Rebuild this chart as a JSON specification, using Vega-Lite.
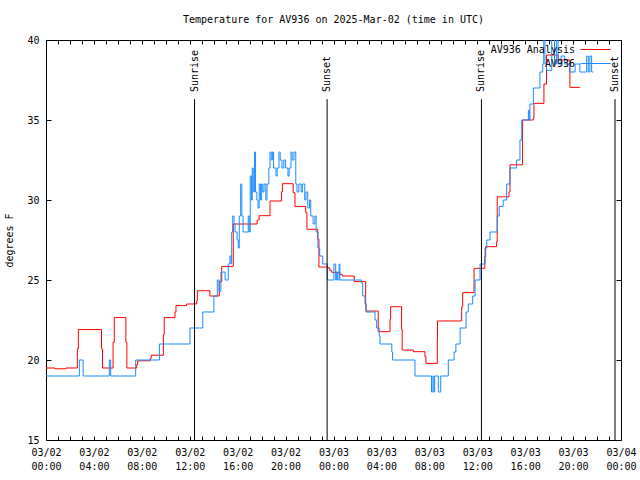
{
  "$schema": "https://vega.github.io/schema/vega-lite/v6.json",
  "width": 575,
  "height": 400,
  "autosize": {"type": "none"},
  "padding": {"left": 46, "top": 40, "right": 19, "bottom": 40},
  "background": "white",
  "config": {
    "view": {"stroke": "black", "strokeWidth": 1},
    "font": "DejaVu Sans Mono",
    "axis": {"domain": false, "grid": false, "tickColor": "black", "tickWidth": 1, "labelColor": "black", "labelFontSize": 10, "labelFont": "DejaVu Sans Mono", "titleFont": "DejaVu Sans Mono", "titleFontSize": 10, "titleFontWeight": "normal", "titleColor": "black"}
  },
  "title": {"text": "Temperature for AV936 on 2025-Mar-02 (time in UTC)", "fontSize": 10, "fontWeight": "normal", "font": "DejaVu Sans Mono", "color": "black", "offset": 10, "anchor": "middle"},
  "datasets": {
    "analysis": [
      {"time": "2025-03-02T00:00:00Z", "temp": 19.5},
      {"time": "2025-03-02T00:45:00Z", "temp": 19.45},
      {"time": "2025-03-02T01:39:00Z", "temp": 19.5},
      {"time": "2025-03-02T02:37:00Z", "temp": 20.7},
      {"time": "2025-03-02T02:42:00Z", "temp": 21.9},
      {"time": "2025-03-02T04:38:00Z", "temp": 20.7},
      {"time": "2025-03-02T04:43:00Z", "temp": 19.5},
      {"time": "2025-03-02T05:36:00Z", "temp": 21.1},
      {"time": "2025-03-02T05:42:00Z", "temp": 22.65},
      {"time": "2025-03-02T06:40:00Z", "temp": 21.1},
      {"time": "2025-03-02T06:45:00Z", "temp": 19.5},
      {"time": "2025-03-02T07:34:00Z", "temp": 19.7},
      {"time": "2025-03-02T07:39:00Z", "temp": 19.95},
      {"time": "2025-03-02T08:42:00Z", "temp": 20.1},
      {"time": "2025-03-02T08:47:00Z", "temp": 20.3},
      {"time": "2025-03-02T09:48:00Z", "temp": 21.6},
      {"time": "2025-03-02T09:52:00Z", "temp": 22.65},
      {"time": "2025-03-02T10:46:00Z", "temp": 23.0},
      {"time": "2025-03-02T10:51:00Z", "temp": 23.4},
      {"time": "2025-03-02T11:44:00Z", "temp": 23.5},
      {"time": "2025-03-02T12:35:00Z", "temp": 23.7},
      {"time": "2025-03-02T12:38:00Z", "temp": 24.33},
      {"time": "2025-03-02T13:41:00Z", "temp": 24.0},
      {"time": "2025-03-02T14:28:00Z", "temp": 24.9},
      {"time": "2025-03-02T14:40:00Z", "temp": 25.85},
      {"time": "2025-03-02T15:38:00Z", "temp": 28.5},
      {"time": "2025-03-02T17:38:00Z", "temp": 28.75},
      {"time": "2025-03-02T17:47:00Z", "temp": 29.02},
      {"time": "2025-03-02T18:42:00Z", "temp": 29.94},
      {"time": "2025-03-02T19:40:00Z", "temp": 30.52},
      {"time": "2025-03-02T19:44:00Z", "temp": 31.02},
      {"time": "2025-03-02T20:38:00Z", "temp": 30.45},
      {"time": "2025-03-02T20:47:00Z", "temp": 29.6},
      {"time": "2025-03-02T21:41:00Z", "temp": 29.2},
      {"time": "2025-03-02T21:47:00Z", "temp": 28.17},
      {"time": "2025-03-02T22:41:00Z", "temp": 27.56},
      {"time": "2025-03-02T22:47:00Z", "temp": 25.81},
      {"time": "2025-03-02T23:33:00Z", "temp": 25.75},
      {"time": "2025-03-02T23:42:00Z", "temp": 25.6},
      {"time": "2025-03-02T23:51:00Z", "temp": 25.48},
      {"time": "2025-03-03T00:32:00Z", "temp": 25.35},
      {"time": "2025-03-03T00:44:00Z", "temp": 25.25},
      {"time": "2025-03-03T01:44:00Z", "temp": 24.9},
      {"time": "2025-03-03T02:41:00Z", "temp": 23.54},
      {"time": "2025-03-03T02:43:00Z", "temp": 23.06},
      {"time": "2025-03-03T03:44:00Z", "temp": 21.77},
      {"time": "2025-03-03T04:43:00Z", "temp": 22.56},
      {"time": "2025-03-03T04:46:00Z", "temp": 23.33},
      {"time": "2025-03-03T05:41:00Z", "temp": 21.92},
      {"time": "2025-03-03T05:44:00Z", "temp": 20.62},
      {"time": "2025-03-03T06:40:00Z", "temp": 20.52},
      {"time": "2025-03-03T07:38:00Z", "temp": 20.2},
      {"time": "2025-03-03T07:43:00Z", "temp": 19.79},
      {"time": "2025-03-03T08:40:00Z", "temp": 21.25},
      {"time": "2025-03-03T08:41:00Z", "temp": 22.44},
      {"time": "2025-03-03T10:42:00Z", "temp": 23.33},
      {"time": "2025-03-03T10:47:00Z", "temp": 24.21},
      {"time": "2025-03-03T11:44:00Z", "temp": 25.73},
      {"time": "2025-03-03T12:38:00Z", "temp": 26.46},
      {"time": "2025-03-03T12:42:00Z", "temp": 27.08},
      {"time": "2025-03-03T13:37:00Z", "temp": 27.4},
      {"time": "2025-03-03T13:40:00Z", "temp": 30.2},
      {"time": "2025-03-03T14:39:00Z", "temp": 30.5},
      {"time": "2025-03-03T14:44:00Z", "temp": 32.2},
      {"time": "2025-03-03T15:47:00Z", "temp": 35.0},
      {"time": "2025-03-03T16:41:00Z", "temp": 35.1},
      {"time": "2025-03-03T16:44:00Z", "temp": 36.04},
      {"time": "2025-03-03T17:34:00Z", "temp": 37.25},
      {"time": "2025-03-03T17:47:00Z", "temp": 39.06},
      {"time": "2025-03-03T18:46:00Z", "temp": 38.75},
      {"time": "2025-03-03T19:44:00Z", "temp": 37.04},
      {"time": "2025-03-03T20:34:00Z", "temp": 37.04}
    ],
    "obs": [
      {"time": "2025-03-02T00:00:00Z", "temp": 19},
      {"time": "2025-03-02T02:47:00Z", "temp": 20},
      {"time": "2025-03-02T03:06:00Z", "temp": 19},
      {"time": "2025-03-02T05:17:00Z", "temp": 20},
      {"time": "2025-03-02T05:24:00Z", "temp": 19},
      {"time": "2025-03-02T07:29:00Z", "temp": 20},
      {"time": "2025-03-02T09:28:00Z", "temp": 21},
      {"time": "2025-03-02T12:01:00Z", "temp": 22},
      {"time": "2025-03-02T13:05:00Z", "temp": 23},
      {"time": "2025-03-02T14:01:00Z", "temp": 24},
      {"time": "2025-03-02T14:18:00Z", "temp": 25},
      {"time": "2025-03-02T14:27:00Z", "temp": 24.3},
      {"time": "2025-03-02T14:36:00Z", "temp": 25.5},
      {"time": "2025-03-02T14:57:00Z", "temp": 25},
      {"time": "2025-03-02T15:13:00Z", "temp": 26},
      {"time": "2025-03-02T15:21:00Z", "temp": 26.5},
      {"time": "2025-03-02T15:27:00Z", "temp": 26},
      {"time": "2025-03-02T15:30:00Z", "temp": 28},
      {"time": "2025-03-02T15:35:00Z", "temp": 29},
      {"time": "2025-03-02T15:42:00Z", "temp": 28.5},
      {"time": "2025-03-02T15:47:00Z", "temp": 28},
      {"time": "2025-03-02T15:57:00Z", "temp": 27.5},
      {"time": "2025-03-02T16:03:00Z", "temp": 27},
      {"time": "2025-03-02T16:08:00Z", "temp": 29},
      {"time": "2025-03-02T16:15:00Z", "temp": 31},
      {"time": "2025-03-02T16:21:00Z", "temp": 29},
      {"time": "2025-03-02T16:27:00Z", "temp": 28},
      {"time": "2025-03-02T16:53:00Z", "temp": 29},
      {"time": "2025-03-02T16:58:00Z", "temp": 28},
      {"time": "2025-03-02T17:03:00Z", "temp": 31.5},
      {"time": "2025-03-02T17:09:00Z", "temp": 30},
      {"time": "2025-03-02T17:13:00Z", "temp": 32},
      {"time": "2025-03-02T17:18:00Z", "temp": 30.5},
      {"time": "2025-03-02T17:24:00Z", "temp": 33},
      {"time": "2025-03-02T17:29:00Z", "temp": 30.5},
      {"time": "2025-03-02T17:36:00Z", "temp": 30},
      {"time": "2025-03-02T17:42:00Z", "temp": 29.5},
      {"time": "2025-03-02T17:48:00Z", "temp": 31},
      {"time": "2025-03-02T17:54:00Z", "temp": 30},
      {"time": "2025-03-02T18:00:00Z", "temp": 31},
      {"time": "2025-03-02T18:06:00Z", "temp": 30.5},
      {"time": "2025-03-02T18:12:00Z", "temp": 31},
      {"time": "2025-03-02T18:21:00Z", "temp": 30},
      {"time": "2025-03-02T18:27:00Z", "temp": 31},
      {"time": "2025-03-02T18:36:00Z", "temp": 32},
      {"time": "2025-03-02T18:42:00Z", "temp": 33},
      {"time": "2025-03-02T18:48:00Z", "temp": 32.5},
      {"time": "2025-03-02T18:54:00Z", "temp": 33},
      {"time": "2025-03-02T19:00:00Z", "temp": 32},
      {"time": "2025-03-02T19:12:00Z", "temp": 31.5},
      {"time": "2025-03-02T19:18:00Z", "temp": 32},
      {"time": "2025-03-02T19:27:00Z", "temp": 33},
      {"time": "2025-03-02T19:33:00Z", "temp": 32.5},
      {"time": "2025-03-02T19:42:00Z", "temp": 32},
      {"time": "2025-03-02T19:51:00Z", "temp": 32.5},
      {"time": "2025-03-02T20:00:00Z", "temp": 32},
      {"time": "2025-03-02T20:12:00Z", "temp": 31.5},
      {"time": "2025-03-02T20:18:00Z", "temp": 32},
      {"time": "2025-03-02T20:27:00Z", "temp": 33},
      {"time": "2025-03-02T20:33:00Z", "temp": 32.5},
      {"time": "2025-03-02T20:42:00Z", "temp": 33},
      {"time": "2025-03-02T20:51:00Z", "temp": 31},
      {"time": "2025-03-02T20:57:00Z", "temp": 30.5},
      {"time": "2025-03-02T21:06:00Z", "temp": 31},
      {"time": "2025-03-02T21:18:00Z", "temp": 30.5},
      {"time": "2025-03-02T21:24:00Z", "temp": 31},
      {"time": "2025-03-02T21:36:00Z", "temp": 30},
      {"time": "2025-03-02T21:42:00Z", "temp": 30.5},
      {"time": "2025-03-02T21:51:00Z", "temp": 29.5},
      {"time": "2025-03-02T22:00:00Z", "temp": 30},
      {"time": "2025-03-02T22:06:00Z", "temp": 29},
      {"time": "2025-03-02T22:18:00Z", "temp": 28.5},
      {"time": "2025-03-02T22:27:00Z", "temp": 29},
      {"time": "2025-03-02T22:33:00Z", "temp": 28},
      {"time": "2025-03-02T22:42:00Z", "temp": 27},
      {"time": "2025-03-02T22:51:00Z", "temp": 26.5},
      {"time": "2025-03-02T23:06:00Z", "temp": 26},
      {"time": "2025-03-02T23:29:00Z", "temp": 25},
      {"time": "2025-03-03T00:02:00Z", "temp": 26},
      {"time": "2025-03-03T00:11:00Z", "temp": 25},
      {"time": "2025-03-03T00:16:00Z", "temp": 25.5},
      {"time": "2025-03-03T00:21:00Z", "temp": 25},
      {"time": "2025-03-03T00:28:00Z", "temp": 26},
      {"time": "2025-03-03T00:32:00Z", "temp": 25},
      {"time": "2025-03-03T02:21:00Z", "temp": 24.8},
      {"time": "2025-03-03T02:26:00Z", "temp": 24},
      {"time": "2025-03-03T02:38:00Z", "temp": 23.5},
      {"time": "2025-03-03T02:43:00Z", "temp": 23},
      {"time": "2025-03-03T03:28:00Z", "temp": 22.5},
      {"time": "2025-03-03T03:36:00Z", "temp": 22},
      {"time": "2025-03-03T03:49:00Z", "temp": 21.5},
      {"time": "2025-03-03T03:53:00Z", "temp": 21},
      {"time": "2025-03-03T04:52:00Z", "temp": 20.5},
      {"time": "2025-03-03T04:56:00Z", "temp": 20},
      {"time": "2025-03-03T06:48:00Z", "temp": 19},
      {"time": "2025-03-03T08:11:00Z", "temp": 18},
      {"time": "2025-03-03T08:18:00Z", "temp": 19},
      {"time": "2025-03-03T08:23:00Z", "temp": 18},
      {"time": "2025-03-03T08:27:00Z", "temp": 19},
      {"time": "2025-03-03T08:45:00Z", "temp": 18},
      {"time": "2025-03-03T08:57:00Z", "temp": 19},
      {"time": "2025-03-03T09:35:00Z", "temp": 20},
      {"time": "2025-03-03T10:04:00Z", "temp": 20.5},
      {"time": "2025-03-03T10:13:00Z", "temp": 21},
      {"time": "2025-03-03T10:34:00Z", "temp": 22},
      {"time": "2025-03-03T11:04:00Z", "temp": 23},
      {"time": "2025-03-03T11:15:00Z", "temp": 23.5},
      {"time": "2025-03-03T11:37:00Z", "temp": 24},
      {"time": "2025-03-03T11:49:00Z", "temp": 25},
      {"time": "2025-03-03T12:14:00Z", "temp": 26},
      {"time": "2025-03-03T12:39:00Z", "temp": 27},
      {"time": "2025-03-03T12:48:00Z", "temp": 27.5},
      {"time": "2025-03-03T13:04:00Z", "temp": 28},
      {"time": "2025-03-03T13:40:00Z", "temp": 29},
      {"time": "2025-03-03T13:50:00Z", "temp": 29.6},
      {"time": "2025-03-03T14:10:00Z", "temp": 30},
      {"time": "2025-03-03T14:27:00Z", "temp": 31},
      {"time": "2025-03-03T14:44:00Z", "temp": 32},
      {"time": "2025-03-03T15:17:00Z", "temp": 32.5},
      {"time": "2025-03-03T15:34:00Z", "temp": 33.75},
      {"time": "2025-03-03T15:43:00Z", "temp": 35},
      {"time": "2025-03-03T16:16:00Z", "temp": 35.6},
      {"time": "2025-03-03T16:21:00Z", "temp": 35},
      {"time": "2025-03-03T16:24:00Z", "temp": 36},
      {"time": "2025-03-03T16:41:00Z", "temp": 37},
      {"time": "2025-03-03T17:14:00Z", "temp": 38},
      {"time": "2025-03-03T17:28:00Z", "temp": 38.5},
      {"time": "2025-03-03T17:33:00Z", "temp": 41},
      {"time": "2025-03-03T17:39:00Z", "temp": 38.5},
      {"time": "2025-03-03T17:47:00Z", "temp": 38.1},
      {"time": "2025-03-03T18:13:00Z", "temp": 41},
      {"time": "2025-03-03T18:27:00Z", "temp": 38.5},
      {"time": "2025-03-03T18:38:00Z", "temp": 41},
      {"time": "2025-03-03T18:45:00Z", "temp": 38.5},
      {"time": "2025-03-03T19:00:00Z", "temp": 39},
      {"time": "2025-03-03T19:18:00Z", "temp": 38.5},
      {"time": "2025-03-03T19:44:00Z", "temp": 38},
      {"time": "2025-03-03T20:10:00Z", "temp": 38.5},
      {"time": "2025-03-03T20:34:00Z", "temp": 38},
      {"time": "2025-03-03T21:08:00Z", "temp": 39},
      {"time": "2025-03-03T21:16:00Z", "temp": 38},
      {"time": "2025-03-03T21:24:00Z", "temp": 39},
      {"time": "2025-03-03T21:33:00Z", "temp": 38},
      {"time": "2025-03-03T21:41:00Z", "temp": 38}
    ],
    "sun": [
      {"event": "Sunrise", "time": "2025-03-02T12:24:00Z"},
      {"event": "Sunset", "time": "2025-03-02T23:28:00Z"},
      {"event": "Sunrise", "time": "2025-03-03T12:21:00Z"},
      {"event": "Sunset", "time": "2025-03-03T23:30:00Z"}
    ]
  },
  "resolve": {"axis": {"x": "independent", "y": "independent"}},
  "layer": [
    {
      "data": {"name": "analysis"},
      "mark": {"type": "line", "interpolate": "step-after", "clip": true, "strokeWidth": 1},
      "encoding": {
        "x": {"field": "time", "type": "temporal",
          "scale": {"type": "utc", "domain": ["2025-03-02T00:00:00Z", "2025-03-04T00:00:00Z"]},
          "axis": {"orient": "bottom", "title": null, "tickCount": 48, "tickSize": -4, "labelPadding": 11, "labelLineHeight": 14, "labelOverlap": false, "labelFlush": false, "labelBound": false,
            "labelExpr": "utchours(datum.value) % 4 == 0 ? [utcFormat(datum.value, '%m/%d'), utcFormat(datum.value, '%H:%M')] : ''"}},
        "y": {"field": "temp", "type": "quantitative",
          "scale": {"domain": [15, 40], "nice": false, "zero": false},
          "axis": {"orient": "left", "title": "degrees F", "values": [15, 20, 25, 30, 35, 40], "tickSize": -5, "labelPadding": 12, "titlePadding": 12}},
        "color": {"datum": "AV936 Analysis", "type": "nominal",
          "scale": {"domain": ["AV936 Analysis", "AV936"], "range": ["#ff0000", "#1a8cff"]},
          "legend": {"title": null, "orient": "none", "legendX": 544, "legendY": 4, "padding": 0, "symbolType": "M-3,0H3", "symbolSize": 100, "symbolStrokeWidth": 1, "labelAlign": "right", "labelOffset": -26, "labelFontSize": 10, "labelFont": "DejaVu Sans Mono", "labelColor": "black", "rowPadding": 3}}
      }
    },
    {
      "data": {"name": "obs"},
      "mark": {"type": "line", "interpolate": "step-after", "clip": true, "strokeWidth": 1},
      "encoding": {
        "x": {"field": "time", "type": "temporal",
          "axis": {"orient": "top", "title": null, "labels": false, "tickCount": 48, "tickSize": -4}},
        "y": {"field": "temp", "type": "quantitative",
          "axis": {"orient": "right", "title": null, "labels": false, "values": [15, 20, 25, 30, 35, 40], "tickSize": -5}},
        "color": {"datum": "AV936", "type": "nominal"}
      }
    },
    {
      "data": {"name": "sun"},
      "mark": {"type": "rule", "color": "black", "strokeWidth": 1},
      "encoding": {
        "x": {"field": "time", "type": "temporal", "axis": null},
        "y": {"datum": 15, "axis": null},
        "y2": {"datum": 36.3}
      }
    },
    {
      "data": {"name": "sun"},
      "mark": {"type": "text", "angle": 270, "align": "left", "baseline": "middle", "fontSize": 10, "font": "DejaVu Sans Mono", "color": "black"},
      "encoding": {
        "x": {"field": "time", "type": "temporal", "axis": null},
        "y": {"datum": 36.75, "axis": null},
        "text": {"field": "event"}
      }
    }
  ]
}
